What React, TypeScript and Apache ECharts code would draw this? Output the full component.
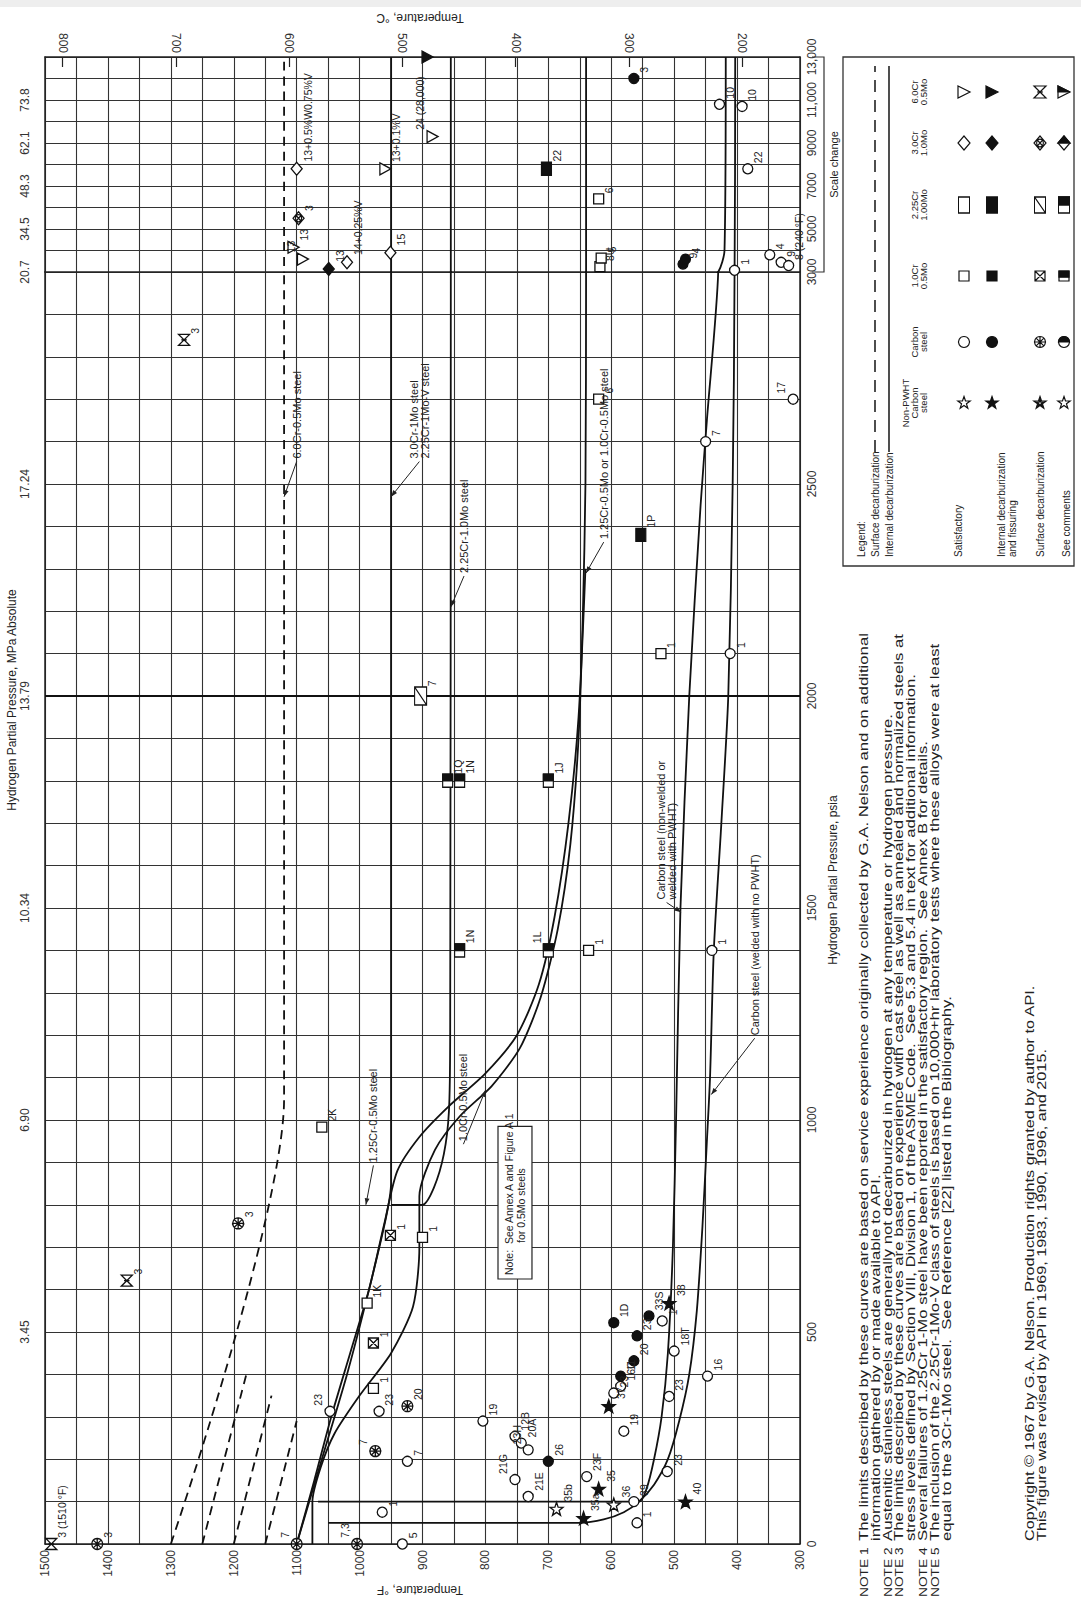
import React, { useEffect, useRef } from "react";
import * as echarts from "echarts";

const NARROW = "'Liberation Sans Narrow','Liberation Sans',Arial,sans-serif";
const SANS = "'Liberation Sans',Arial,sans-serif";

// ---------- axis values ----------
const tempMinF = 300;
const tempMaxF = 1500;
const psiSplit = 3000;
const psiMax = 13000;
const tempLabelsC = [200, 300, 400, 500, 600, 700, 800];
const psiLabelsLow = [0, 500, 1000, 1500, 2000, 2500];
const psiLabelsHigh = [3000, 5000, 7000, 9000, 11000, 13000];
const mpaPsi = [500, 1000, 1500, 2000, 2500, 3000, 5000, 7000, 9000, 11000];
const mpaText = ["3.45", "6.90", "10.34", "13.79", "17.24", "20.7", "34.5", "48.3", "62.1", "73.8"];

// ---------- curves: [temperature °F, H2 partial pressure psia] ----------
const csNoPwht = [[1050, 50], [650, 50], [612, 58], [580, 75], [556, 100], [532, 140], [510, 200], [492, 290], [476, 400], [464, 550], [455, 750], [448, 950], [443, 1100], [437, 1400], [425, 1700], [414, 2000], [407, 2500], [404, 3000], [403, 13000]];
const csPwht = [[1066, 100], [556, 100], [544, 130], [532, 200], [520, 300], [510, 450], [502, 700], [497, 1000], [490, 1500], [476, 2000], [458, 2450], [448, 2650], [430, 3000], [420, 4000], [418, 13000]];
const cr1Mo05 = [[1075, 0], [1075, 100], [1062, 180], [1040, 260], [1000, 350], [950, 450], [915, 560], [905, 700], [905, 820], [880, 930], [840, 1010], [790, 1080], [745, 1170], [712, 1290], [685, 1450], [665, 1650], [652, 1900], [645, 2200], [641, 2500], [640, 3000], [640, 13000]];
const cr125Mo05 = [[1100, 0], [1072, 150], [1045, 300], [1015, 450], [985, 600], [960, 760], [940, 880], [905, 960], [860, 1030], [800, 1110], [750, 1200], [715, 1320], [690, 1480], [668, 1700], [652, 1950], [641, 2300]];
const cr225Mo1 = [[950, 800], [900, 800], [882, 840], [866, 920], [858, 1020], [856, 1200], [855, 3000], [855, 13000]];
const cr3Mo1 = [[1100, 0], [1060, 200], [1020, 400], [985, 600], [958, 770], [950, 850], [950, 1200], [950, 3000], [950, 13000]];
const cr6Mo05 = [[1300, 0], [1120, 1050], [1120, 3000], [1120, 13000]];
const surfDecarbA = [[1250, 0], [1180, 400]];
const surfDecarbB = [[1200, 0], [1140, 350]];
const surfDecarbC = [[1150, 0], [1100, 290]];

// ---------- experience points: [T °F, P psia, label, label side] ----------
const npSat = [[687, 83, "35b"], [596, 93, "36"]];
const npInt = [[604, 325, "37"], [644, 61, "35a"], [508, 568, "38"], [482, 100, "40"], [620, 130, "35"]];
const csSat = [
  [804, 290, "19"], [753, 254, "12B"], [743, 238, "20A"], [732, 222, "23H", "l"], [753, 152, "21G", "l"], [732, 112, "21E"],
  [639, 159, "23F"], [596, 356, "23"], [585, 372, "16C"], [580, 266, "19"], [519, 526, "1"], [500, 455, "18T"],
  [508, 348, "23"], [447, 396, "16"], [511, 171, "23"], [564, 100, "39"], [559, 50, "1"],
  [1047, 313, "23", "l"], [969, 313, "23"], [924, 195, "7"], [964, 75, "1"], [932, 0, "5"],
  [440, 1400, "1"], [411, 2100, "1"], [450, 2600, "7"], [311, 2700, "17", "l"],
  [428, 10800, "10"], [392, 10700, "10"], [383, 7800, "22"], [404, 3080, "1"], [348, 3800, "4"], [330, 3450, "9"], [318, 3300, "8 (240 \u00b0F)"],
];
const csInt = [[700, 195, "26"], [585, 396, "11"], [564, 432, "20"], [559, 491, "23"], [596, 522, "1D"], [540, 538, "33S"], [564, 12000, "3"], [486, 3370, "9"], [482, 3600, "4"]];
const csSurf = [[1193, 756, "3"], [1417, 0, "3"], [1100, 0, "7", "l"], [1004, 0, "7,3", "l"], [975, 219, "7", "l"], [924, 325, "20"]];
const cr1Sat = [[988, 568, "1K"], [978, 367, "1"], [900, 723, "1"], [1060, 983, "2K"], [636, 1400, "1"], [521, 2100, "1"], [620, 2700, "6"], [618, 3250, "8U"], [616, 3650, "5"], [620, 6400, "6"]];
const cr1Surf = [[951, 728, "1"], [978, 474, "1"]];
const cr225Int = [[553, 2380, "1P"], [703, 7800, "22"]];
const cr225Com = [[860, 1800, "1Q"], [841, 1800, "1N"], [700, 1800, "1J"], [841, 1400, "1N"], [700, 1400, "1L", "l"]];
const cr225Surf = [[903, 2000, "7"]];
const cr3Sat = [[1100, 7800, "13+0.5%W0.75%V"], [1020, 3450, "14+0.25%V"], [951, 3900, "15"]];
const cr3Int = [[1049, 3140, "13"]];
const cr3Surf = [[1097, 5500, "3"]];
const cr6Sat = [[959, 7800, "13+0.1%V"], [884, 9300, "24 (28,000)", "l"], [1105, 4150, "13"], [1090, 3600, "13", "l"]];
const cr6Int = [[892, 13000, ""]];
const cr6Surf = [[1279, 2840, "3"], [1370, 621, "3"], [1490, 0, "3 (1510 \u00b0F)"]];

// ---------- text ----------
const legendCols = ["Non-PWHT\nCarbon\nsteel", "Carbon\nsteel", "1.0Cr\n0.5Mo", "2.25Cr\n1.00Mo", "3.0Cr\n1.0Mo", "6.0Cr\n0.5Mo"];
const legendRows = ["Satisfactory", "Internal decarburization\nand fissuring", "Surface decarburization", "See comments"];
const noteLines = [
  ["NOTE 1", "The limits described by these curves are based on service experience originally collected by G.A. Nelson and on additional"],
  ["", "information gathered by or made available to API."],
  ["NOTE 2", "Austenitic stainless steels are generally not decarburized in hydrogen at any temperature or hydrogen pressure."],
  ["NOTE 3", "The limits described by these curves are based on experience with cast steel as well as annealed and normalized steels at"],
  ["", "stress levels defined by Section VIII, Division 1, of the ASME Code.  See 5.3 and 5.4 in text for additional information."],
  ["NOTE 4", "Several failures of 1.25Cr 1-Mo steel have been reported in the satisfactory region.  See Annex B for details."],
  ["NOTE 5", "The inclusion of the 2.25Cr-1Mo-V class of steels is based on 10,000+hr laboratory tests where these alloys were at least"],
  ["", "equal to the 3Cr-1Mo steel.  See Reference [22] listed in the Bibliography."],
];
const copyrightLines = [
  "Copyright \u00a9 1967 by G.A. Nelson. Production rights granted by author to API.",
  "This figure was revised by API in 1969, 1983, 1990, 1996, and 2015.",
];
const curveLabels = [
  { text: "6.0Cr-0.5Mo steel", t: 1100, p: 2560, at: 1120, ap: 2470 },
  { text: "3.0Cr-1Mo steel\n2.25Cr-1Mo-V steel", t: 905, p: 2560, at: 950, ap: 2470 },
  { text: "2.25Cr-1.0Mo steel", t: 834, p: 2290, at: 855, ap: 2210 },
  { text: "1.25Cr-0.5Mo or 1.0Cr-0.5Mo steel", t: 612, p: 2370, at: 640, ap: 2290 },
  { text: "Carbon steel (non-welded or\nwelded with PWHT)", t: 512, p: 1520, at: 489, ap: 1490 },
  { text: "Carbon steel (welded with no PWHT)", t: 372, p: 1200, at: 441, ap: 1060 },
  { text: "1.0Cr-0.5Mo steel", t: 835, p: 950, at: 800, ap: 1070 },
  { text: "1.25Cr-0.5Mo steel", t: 978, p: 900, at: 990, ap: 800 },
];
const noteBox = { text: "Note:  See Annex A and Figure A.1\n           for 0.5Mo steels", t0: 780, t1: 726, p0: 625, p1: 985 };

// ---------- geometry ----------
const GL = 45, GR = 800, GT = 57, G3 = 272, GB = 1544;
const xOf = (t: number) => GL + ((tempMaxF - t) / (tempMaxF - tempMinF)) * (GR - GL);
const yOf = (p: number) => (p <= psiSplit ? GB - (p / psiSplit) * (GB - G3) : G3 - ((p - psiSplit) / (psiMax - psiSplit)) * (G3 - GT));

// ---------- symbols (path strings in a 100x100 box) ----------
const STAR = "M50 0 L61.76 33.82 L97.55 34.55 L69.02 56.18 L79.39 90.45 L50 70 L20.61 90.45 L30.98 56.18 L2.45 34.55 L38.24 33.82 Z";
const STAR2 = STAR + " M50 28 L56 44 L72 45 L59 55 L64 71 L50 62 L36 71 L41 55 L28 45 L44 44 Z";
const CIRC = "M50 0 A50 50 0 1 1 49.99 0 Z";
const CIRCX = CIRC + " M15 15 L85 85 M85 15 L15 85 M50 0 L50 100 M0 50 L100 50";
const SQ = "M0 0 L100 0 L100 100 L0 100 Z";
const SQX = SQ + " M0 0 L100 100 M100 0 L0 100";
const RECTD = SQ + " M0 0 L100 100";
const DIA = "M50 0 L100 50 L50 100 L0 50 Z";
const DIAX = DIA + " M50 22 A28 28 0 1 1 49.99 22 Z M30 30 L70 70 M70 30 L30 70";
const HOURG = "M0 0 L100 0 L0 100 L100 100 Z M25 50 L75 50";
const TRI = "M0 0 L100 50 L0 100 Z";
const HALF_CIRC = "M0 50 A50 50 0 0 1 100 50 Z M0 100 L0 100";
const HALF_RECT = "M0 0 L100 0 L100 50 L0 50 Z M0 100 L0 100";
const HALF_SQ = "M0 0 L100 0 L100 62 L0 62 Z M0 100 L0 100";
const HALF_DIA = "M0 50 L50 0 L100 50 Z M0 100 L0 100";
const HALF_TRI = "M0 0 L100 50 L0 50 Z M0 100 L0 100";

function App() {
  const ref = useRef<HTMLDivElement>(null);
  useEffect(() => {
    if (!ref.current) return;
    const chart = echarts.init(ref.current, undefined, { renderer: "svg" });

    const axisLabelBase = { show: true, rotate: 90, fontSize: 12, fontFamily: NARROW, color: "#333" };
    const xAxisBase = {
      type: "value", min: tempMinF, max: tempMaxF, inverse: true, interval: 50,
      axisLine: { show: true, lineStyle: { color: "#222", width: 1.5 } },
      axisTick: { show: false },
      splitLine: { show: true, lineStyle: { color: "#333", width: 1.1 } },
    };
    const xAxes: any[] = [
      { ...xAxisBase, gridIndex: 0, position: "bottom", axisLabel: { ...axisLabelBase, margin: 6, formatter: (v: number) => (v % 100 === 0 ? String(v) : "") } },
      { ...xAxisBase, gridIndex: 1, position: "bottom", axisLabel: { show: false } },
      {
        type: "value", gridIndex: 1, position: "top", inverse: true,
        min: (tempMinF - 32) / 1.8, max: (tempMaxF - 32) / 1.8,
        axisLine: { show: true, lineStyle: { color: "#222", width: 1.5 } },
        axisTick: { show: true, inside: true, length: 10, customValues: tempLabelsC, lineStyle: { color: "#222", width: 1.2 } },
        axisLabel: { ...axisLabelBase, margin: 4, customValues: tempLabelsC },
        splitLine: { show: false },
      },
    ];
    const fmtPsi = (v: number) => (v >= 10000 ? v.toLocaleString("en-US") : String(v));
    const yAxes: any[] = [
      {
        type: "value", gridIndex: 0, position: "right", min: 0, max: psiSplit, interval: 100,
        axisLine: { show: true, lineStyle: { color: "#222", width: 1.5 } }, axisTick: { show: false },
        splitLine: { show: true, lineStyle: { color: "#333", width: 1.1 } },
        axisLabel: { ...axisLabelBase, margin: 6, formatter: (v: number) => (psiLabelsLow.indexOf(v) >= 0 ? String(v) : "") },
      },
      {
        type: "value", gridIndex: 0, position: "left", min: 0, max: psiSplit, interval: 100,
        axisLine: { show: true, lineStyle: { color: "#222", width: 1.5 } }, axisTick: { show: false }, splitLine: { show: false },
        axisLabel: { ...axisLabelBase, margin: 14, formatter: (v: number) => { const i = mpaPsi.indexOf(v); return i >= 0 && v < psiSplit ? mpaText[i] : ""; } },
      },
      {
        type: "value", gridIndex: 1, position: "right", min: psiSplit, max: psiMax, interval: 1000,
        axisLine: { show: true, lineStyle: { color: "#222", width: 1.5 } }, axisTick: { show: false },
        splitLine: { show: true, lineStyle: { color: "#333", width: 1.1 } },
        axisLabel: { ...axisLabelBase, margin: 6, formatter: (v: number) => (psiLabelsHigh.indexOf(v) >= 0 ? fmtPsi(v) : "") },
      },
      {
        type: "value", gridIndex: 1, position: "left", min: psiSplit, max: psiMax, interval: 1000,
        axisLine: { show: true, lineStyle: { color: "#222", width: 1.5 } }, axisTick: { show: false }, splitLine: { show: false },
        axisLabel: { ...axisLabelBase, margin: 14, formatter: (v: number) => { const i = mpaPsi.indexOf(v); return i >= 0 && v < psiMax ? mpaText[i] : ""; } },
      },
    ];

    const series: any[] = [];
    const curve = (name: string, pts: number[][], dashed = false) => {
      for (const gi of [0, 1]) {
        series.push({
          name, type: "line", xAxisIndex: gi, yAxisIndex: gi === 0 ? 0 : 2, data: pts,
          showSymbol: false, smooth: 0.25, clip: true, silent: true,
          lineStyle: { color: "#111", width: 1.8, type: dashed ? [9, 6] : "solid" }, z: 3,
        });
      }
    };
    curve("cs-no-pwht", csNoPwht);
    curve("cs-pwht", csPwht);
    curve("1.0Cr", cr1Mo05);
    curve("1.25Cr", cr125Mo05);
    curve("2.25Cr", cr225Mo1);
    curve("3.0Cr", cr3Mo1);
    curve("6.0Cr", cr6Mo05, true);
    curve("sd-a", surfDecarbA, true);
    curve("sd-b", surfDecarbB, true);
    curve("sd-c", surfDecarbC, true);
    series.push({
      type: "line", xAxisIndex: 0, yAxisIndex: 0, data: [[tempMinF, 2000], [tempMaxF, 2000]],
      showSymbol: false, silent: true, lineStyle: { color: "#111", width: 2 }, z: 2,
    });

    const pointSeries = (pts: any[], symbol: string, size: any, fill: string, withLabel = true) => {
      const w = Array.isArray(size) ? size[0] : size;
      for (const gi of [0, 1]) {
        const data = pts
          .filter((d) => (gi === 0 ? d[1] <= psiSplit : d[1] > psiSplit))
          .map((d) => ({
            value: [d[0], d[1]], name: d[2],
            label: { position: d[3] === "l" ? [-6, 0] : [w + 6, 0] },
          }));
        if (!data.length) continue;
        series.push({
          type: "scatter", xAxisIndex: gi, yAxisIndex: gi === 0 ? 0 : 2, data, symbol, symbolSize: size,
          clip: false, silent: true, z: 5,
          itemStyle: { color: fill, borderColor: "#111", borderWidth: 1.3, opacity: 1 },
          label: {
            show: withLabel, rotate: 90, align: "left", verticalAlign: "middle",
            fontSize: 10.5, fontFamily: SANS, color: "#222", formatter: (p: any) => p.name,
          },
        });
      }
    };
    pointSeries(npSat, "path://" + STAR, 13, "#fff");
    pointSeries(npInt, "path://" + STAR, 13, "#111");
    pointSeries(csSat, "circle", 10, "#fff");
    pointSeries(csInt, "circle", 10, "#111");
    pointSeries(csSurf, "path://" + CIRCX, 11, "#fff");
    pointSeries(cr1Sat, "rect", 10, "#fff");
    pointSeries(cr1Surf, "path://" + SQX, 10, "#fff");
    pointSeries(cr225Int, "rect", [10, 13], "#111");
    pointSeries(cr225Com, "rect", [10, 13], "#fff");
    pointSeries(cr225Com, "path://" + HALF_RECT, [10, 13], "#111", false);
    pointSeries(cr225Surf, "path://" + RECTD, [12, 18], "#fff");
    pointSeries(cr3Sat, "diamond", [11, 13], "#fff");
    pointSeries(cr3Int, "diamond", [11, 13], "#111");
    pointSeries(cr3Surf, "path://" + DIAX, [11, 13], "#fff");
    pointSeries(cr6Sat, "path://" + TRI, [11, 12], "#fff");
    pointSeries(cr6Int, "path://" + TRI, [11, 12], "#111");
    pointSeries(cr6Surf, "path://" + HOURG, [11, 11], "#fff");

    // ---------- graphic ----------
    const g: any[] = [];
    const rtext = (x: number, y: number, text: string, opts: any = {}) =>
      g.push({
        type: "text", x, y, rotation: opts.rot ?? Math.PI / 2, scaleX: opts.sx ?? 1, silent: true, z: 20,
        style: {
          text, fill: "#222", font: `${opts.size ?? 11}px ${opts.font ?? SANS}`,
          textAlign: opts.align ?? "left", textVerticalAlign: opts.valign ?? "middle", lineHeight: opts.lh ?? 12,
        },
      });

    g.push({ type: "rect", shape: { x: 0, y: 0, width: 1081, height: 7 }, style: { fill: "#eeeeee" }, silent: true });
    rtext(420, 18, "Temperature, \u00b0C", { rot: Math.PI, align: "center", size: 12, font: NARROW });
    rtext(420, 1590, "Temperature, \u00b0F", { rot: Math.PI, align: "center", size: 12, font: NARROW });
    rtext(12, 700, "Hydrogen Partial Pressure, MPa Absolute", { align: "center", size: 12, font: NARROW });
    rtext(833, 880, "Hydrogen Partial Pressure, psia", { align: "center", size: 12, font: NARROW });
    g.push({ type: "polyline", shape: { points: [[812, GT], [824, GT], [824, G3], [812, G3]] }, style: { stroke: "#333", lineWidth: 1.2, fill: null }, silent: true });
    rtext(834, (GT + G3) / 2, "Scale change", { align: "center", size: 11, font: NARROW });

    for (const c of curveLabels) {
      const x = xOf(c.t), y = yOf(c.p), x2 = xOf(c.at), y2 = yOf(c.ap);
      rtext(x, y, c.text, { align: "left", size: 11, lh: 11 });
      g.push({ type: "line", shape: { x1: x, y1: y + 3, x2, y2 }, style: { stroke: "#222", lineWidth: 1 }, silent: true, z: 20 });
      const ang = Math.atan2(y2 - (y + 3), x2 - x);
      const a1 = ang + Math.PI - 0.35, a2 = ang + Math.PI + 0.35;
      g.push({
        type: "polygon", silent: true, z: 20,
        shape: { points: [[x2, y2], [x2 + 7 * Math.cos(a1), y2 + 7 * Math.sin(a1)], [x2 + 7 * Math.cos(a2), y2 + 7 * Math.sin(a2)]] },
        style: { fill: "#222" },
      });
    }
    {
      const x0 = xOf(noteBox.t0), x1 = xOf(noteBox.t1), y0 = yOf(noteBox.p1), y1 = yOf(noteBox.p0);
      g.push({ type: "rect", shape: { x: x0, y: y0, width: x1 - x0, height: y1 - y0 }, style: { fill: "#fff", stroke: "#222", lineWidth: 1.2 }, silent: true, z: 19 });
      rtext((x0 + x1) / 2, y1 - 4, noteBox.text, { align: "left", size: 10.5, lh: 12 });
    }

    // legend
    const LX0 = 843, LX1 = 1074, LY0 = 57, LY1 = 566;
    g.push({ type: "rect", shape: { x: LX0, y: LY0, width: LX1 - LX0, height: LY1 - LY0 }, style: { fill: "#fff", stroke: "#333", lineWidth: 1.3 }, silent: true });
    const LB = 557;
    rtext(861, LB, "Legend:", { size: 10, font: NARROW });
    rtext(875, LB, "Surface decarburization", { size: 10, font: NARROW });
    rtext(889, LB, "Internal decarburization", { size: 10, font: NARROW });
    g.push({ type: "line", shape: { x1: 875, y1: 452, x2: 875, y2: 66 }, style: { stroke: "#222", lineWidth: 1.6, lineDash: [12, 8] }, silent: true });
    g.push({ type: "line", shape: { x1: 889, y1: 452, x2: 889, y2: 66 }, style: { stroke: "#222", lineWidth: 1.6 }, silent: true });
    const colY = [403, 342, 276, 205, 143, 92];
    legendCols.forEach((t, i) => rtext(928, colY[i], t, { align: "center", valign: "bottom", size: 9.5, lh: 9, font: NARROW }));
    const rowX = [958, 996, 1040, 1066];
    const symX = [964, 992, 1040, 1064];
    legendRows.forEach((t, i) => rtext(rowX[i], LB, t, { size: 10, lh: 11, font: NARROW, valign: i === 1 ? "top" : "middle" }));

    const shapes: Record<string, string> = {
      lgStar: STAR, lgStar2: STAR2, lgCirc: CIRC, lgCircX: CIRCX, lgSqX: SQX, lgRectD: RECTD, lgDiaX: DIAX, lgHourg: HOURG, lgTri: TRI,
      lgSq: SQ, lgDia: DIA, lgHalfCirc: HALF_CIRC, lgHalfRect: HALF_RECT, lgHalfSq: HALF_SQ, lgHalfDia: HALF_DIA, lgHalfTri: HALF_TRI,
    };
    for (const k of Object.keys(shapes)) {
      try { echarts.graphic.registerShape(k, (echarts.graphic as any).extendPath(shapes[k], {})); } catch (e) { /* ignore */ }
    }
    const sym = (kind: string, cx: number, cy: number, w: number, h: number, fill: string) =>
      g.push({ type: kind, x: cx - w / 2, y: cy - h / 2, scaleX: w / 100, scaleY: h / 100, style: { fill, stroke: "#111", lineWidth: 1.2, strokeNoScale: true }, silent: true, z: 21 });
    const sizes = [[13, 13], [11, 11], [10, 10], [11, 16], [12, 14], [12, 12]];
    const rowKinds = [
      ["lgStar", "lgCirc", "lgSq", "lgSq", "lgDia", "lgTri"],
      ["lgStar", "lgCirc", "lgSq", "lgSq", "lgDia", "lgTri"],
      ["lgStar2", "lgCircX", "lgSqX", "lgRectD", "lgDiaX", "lgHourg"],
      ["lgStar", "lgCirc", "lgSq", "lgSq", "lgDia", "lgTri"],
    ];
    const halfKinds = ["", "lgHalfCirc", "lgHalfSq", "lgHalfRect", "lgHalfDia", "lgHalfTri"];
    rowKinds.forEach((row, r) => {
      row.forEach((k, c) => {
        const [w, h] = sizes[c];
        sym(k, symX[r], colY[c], w, h, r === 1 ? "#111" : "#fff");
        if (r === 3 && halfKinds[c]) sym(halfKinds[c], symX[r], colY[c], w, h, "#111");
      });
    });

    // notes
    const noteX = [864, 876, 888, 899, 911, 923, 935, 947];
    noteLines.forEach((ln, i) => {
      if (ln[0]) rtext(noteX[i], 1597, ln[0], { size: 11, sx: 1.25 });
      rtext(noteX[i], 1541, ln[1], { size: 12.5, sx: 1.34 });
    });
    rtext(1030, 1541, copyrightLines[0], { size: 12.5, sx: 1.3 });
    rtext(1042, 1541, copyrightLines[1], { size: 12.5, sx: 1.3 });

    chart.setOption({
      animation: false,
      backgroundColor: "#fff",
      textStyle: { fontFamily: SANS, color: "#222" },
      grid: [
        { left: GL, top: G3, width: GR - GL, height: GB - G3, containLabel: false },
        { left: GL, top: GT, width: GR - GL, height: G3 - GT, containLabel: false },
      ],
      xAxis: xAxes,
      yAxis: yAxes,
      series,
      graphic: g,
    });
    return () => chart.dispose();
  }, []);
  return <div ref={ref} style={{ width: 1081, height: 1599, position: "absolute", left: 0, top: 0 }} />;
}

export default App;
